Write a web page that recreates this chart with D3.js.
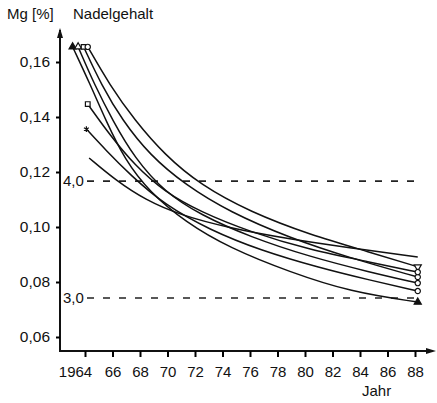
<!DOCTYPE html>
<html lang="de">
<head>
<meta charset="utf-8">
<title>Mg Nadelgehalt</title>
<script src="https://d3js.org/d3.v7.js"></script>
<style>
  body { margin: 0; background: #fff; }
  text { font-family: "Liberation Sans", Arial, sans-serif; fill: #111; }
</style>
</head>
<body>
<div id="chart"></div>
<script>
// tick labels
const yearTicks = [1964, 1966, 1968, 1970, 1972, 1974, 1976, 1978, 1980, 1982, 1984, 1986, 1988];
const yearLabels = ["1964", "66", "68", "70", "72", "74", "76", "78", "80", "82", "84", "86", "88"];
const mgTicks = [0.06, 0.08, 0.10, 0.12, 0.14, 0.16];

// reference levels (dashed lines)
const levels = [
  {label: "4,0", value: 0.1167},
  {label: "3,0", value: 0.0742}
];

// series: [year, Mg %]
const serieA = [[1963.1,0.1655],[1964.4,0.1516],[1965.5,0.1389],[1966.9,0.1244],[1968.7,0.1127],[1971.3,0.1018],[1974.5,0.0924],[1978.9,0.0836],[1983.3,0.0764],[1988.2,0.0727]];
const serieB = [[1963.5,0.1655],[1964.7,0.1516],[1966.0,0.1389],[1967.6,0.1251],[1969.8,0.1127],[1972.4,0.1044],[1976.0,0.0964],[1980.4,0.0891],[1984.7,0.0836],[1988.2,0.0796]];
const serieC = [[1963.9,0.1655],[1965.2,0.1516],[1966.7,0.1389],[1968.7,0.1262],[1971.3,0.1153],[1974.5,0.1055],[1978.9,0.0960],[1983.3,0.0887],[1988.2,0.0818]];
const serieD = [[1964.2,0.1655],[1965.8,0.1516],[1967.6,0.1389],[1969.8,0.1262],[1972.4,0.1153],[1976.0,0.1055],[1980.4,0.0971],[1984.7,0.0909],[1988.2,0.0855]];
const serieE = [[1964.2,0.1447],[1965.8,0.1335],[1967.6,0.1225],[1969.8,0.1127],[1972.4,0.1055],[1976.0,0.0982],[1980.4,0.0916],[1984.7,0.0873],[1988.2,0.0836]];
const serieF = [[1964.1,0.1356],[1965.5,0.1280],[1967.3,0.1189],[1969.8,0.1080],[1973.1,0.0989],[1976.7,0.0916],[1981.1,0.0851],[1984.7,0.0807],[1988.2,0.0767]];
const serieG = [[1964.3,0.1251],[1966.2,0.1171],[1968.4,0.1098],[1970.9,0.1044],[1974.5,0.0996],[1978.9,0.0956],[1983.3,0.0924],[1988.2,0.0891]];

const series = [
  {data: serieA, start: "triangle-fill", end: "triangle-fill"},
  {data: serieB, start: "triangle", end: "circle"},
  {data: serieC, start: "square", end: "circle"},
  {data: serieD, start: "circle", end: "triangle-down"},
  {data: serieE, start: "square", end: "circle"},
  {data: serieF, start: "star", end: "circle"},
  {data: serieG, start: null, end: null}
];

const W = 437, H = 403;
const svg = d3.select("#chart").append("svg")
  .attr("width", W).attr("height", H);

const x = d3.scaleLinear().domain([1964, 1988]).range([85, 415]);
const y = d3.scaleLinear().domain([0.06, 0.16]).range([337, 62]);

const axisX0 = 60, axisY0 = 351;

// axis lines with arrows
svg.append("line").attr("x1", axisX0).attr("x2", axisX0).attr("y1", axisY0 + 1).attr("y2", 30)
  .attr("stroke", "#111").attr("stroke-width", 2);
svg.append("path").attr("d", `M${axisX0 - 3},38 L${axisX0},28 L${axisX0 + 3},38 Z`).attr("fill", "#111");
svg.append("line").attr("x1", axisX0 - 1).attr("x2", 432).attr("y1", axisY0).attr("y2", axisY0)
  .attr("stroke", "#111").attr("stroke-width", 2);
svg.append("path").attr("d", `M426,${axisY0 - 3} L436,${axisY0} L426,${axisY0 + 3} Z`).attr("fill", "#111");

// y axis
const yAxis = svg.append("g")
  .attr("transform", `translate(${axisX0},0)`)
  .call(d3.axisLeft(y).tickValues(mgTicks).tickSize(4).tickPadding(6)
    .tickFormat(d => d3.format(".2f")(d).replace(".", ",")));
yAxis.select(".domain").remove();
yAxis.selectAll(".tick line").attr("stroke-width", 2);
yAxis.selectAll("text").style("font-size", "15.5px").attr("fill", "#111");

// x axis
const xAxis = svg.append("g")
  .attr("transform", `translate(0,${axisY0})`)
  .call(d3.axisBottom(x).tickValues(yearTicks).tickSize(6).tickPadding(9)
    .tickFormat((d, i) => yearLabels[i]));
xAxis.select(".domain").remove();
xAxis.selectAll(".tick line").attr("stroke-width", 2);
xAxis.selectAll("text").style("font-size", "15px").attr("fill", "#111");
// first label sits left of its tick, as in the original
xAxis.selectAll("text").filter(d => d === 1964).attr("dx", "-10");

// titles
svg.append("text").attr("x", 7).attr("y", 19).style("font-size", "15px").text("Mg [%]");
svg.append("text").attr("x", 73).attr("y", 19).style("font-size", "15px").text("Nadelgehalt");
svg.append("text").attr("x", 362).attr("y", 396).style("font-size", "15px").text("Jahr");

// dashed reference lines
levels.forEach(l => {
  svg.append("line")
    .attr("x1", 87).attr("x2", 420)
    .attr("y1", y(l.value)).attr("y2", y(l.value))
    .attr("stroke", "#222").attr("stroke-width", 1.6)
    .attr("stroke-dasharray", "7,9");
  svg.append("text").attr("x", 63).attr("y", y(l.value) + 5)
    .style("font-size", "15px").text(l.label);
});

// curves
const line = d3.line()
  .x(d => x(d[0])).y(d => y(d[1]))
  .curve(d3.curveBasis);

svg.append("g").selectAll("path")
  .data(series)
  .join("path")
    .attr("d", s => line(s.data))
    .attr("fill", "none")
    .attr("stroke", "#111")
    .attr("stroke-width", 1.5);

// markers
function drawMarker(type, px, py) {
  if (!type) return;
  const map = {
    "triangle-fill": [d3.symbolTriangle, true],
    "triangle": [d3.symbolTriangle, false],
    "triangle-down": [d3.symbolTriangle, false],
    "square": [d3.symbolSquare, false],
    "circle": [d3.symbolCircle, false],
    "star": [d3.symbolAsterisk, false]
  };
  const [sym, filled] = map[type];
  svg.append("path")
    .attr("d", d3.symbol().type(sym).size(22)())
    .attr("transform", `translate(${px},${py})` + (type === "triangle-down" ? " rotate(180)" : ""))
    .attr("fill", filled ? "#111" : "#fff")
    .attr("stroke", "#111")
    .attr("stroke-width", 1.2);
}
series.forEach(s => {
  const a = s.data[0], b = s.data[s.data.length - 1];
  drawMarker(s.start, x(a[0]), y(a[1]));
  drawMarker(s.end, x(b[0]), y(b[1]));
});
</script>
</body>
</html>
